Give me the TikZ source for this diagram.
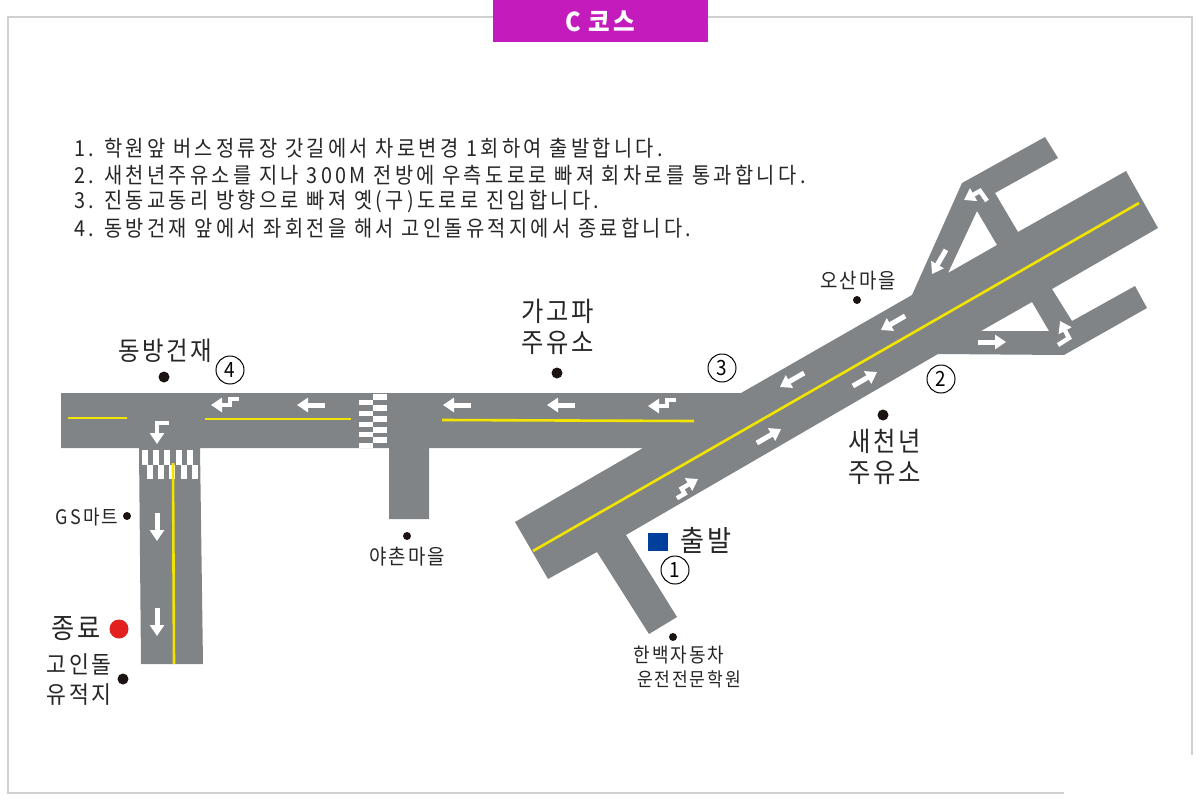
\documentclass[tikz,border=0pt]{standalone}
\usepackage{fontspec}
\setmainfont[FakeStretch=0.9, LetterSpace=10]{Noto Sans CJK KR}
\newfontfamily\guidefont[FakeStretch=0.9, LetterSpace=15]{Noto Sans CJK KR}
\usetikzlibrary{arrows.meta}
\definecolor{roadgray}{HTML}{808487}
\definecolor{lineyellow}{HTML}{F2E400}
\definecolor{framegray}{HTML}{D0D0D0}
\definecolor{titlepurple}{HTML}{C41BBD}
\definecolor{startblue}{HTML}{00409C}
\definecolor{endred}{HTML}{E2201F}
\definecolor{dotblack}{HTML}{1A1311}
\tikzset{
    framerule/.style={framegray, line width=2},
    centerline/.style={lineyellow, line width=2.6},
    zebra/.style={fill=white, draw=none},
    roadmark/.style={white, line width=5, -{Triangle[length=11, width=14]}},
    thinmark/.style={white, line width=4.4, miter limit=10, -{Triangle[length=11, width=14]}},
    placedot/.style={circle, fill=dotblack, inner sep=0, minimum size=#1},
    stepnum/.style={circle, draw, line width=1, inner sep=0, minimum size=28, font=\fontsize{21}{21}\selectfont},
    guide/.style={anchor=west, inner sep=0, text=black!85, font=\guidefont\fontsize{22}{22}\selectfont},
    place/.style={align=center, inner sep=0, text=black!85, font=\fontsize{#1}{#1}\selectfont},
    straightmark/.pic={\draw[roadmark] (-14,0) -- (14,0);},
    zigmark/.pic={\draw[thinmark] (-14,6) -- (-5,6) -- (-5,0) -- (14,0);},
}
\begin{document}
\begin{tikzpicture}[x=1pt, y=-1pt]
    \useasboundingbox (0,0) rectangle (1200,800);
    % frame
    \draw[framerule] (493,17) -- (8,17) -- (8,793) -- (1064,793);
    \draw[framerule] (708,17) -- (1192,17) -- (1192,755);
    \fill[titlepurple] (493,0) rectangle (708,42);
    \node[inner sep=0, text=white, font=\fontsize{26}{26}\selectfont\bfseries] (title) at (600,21) {C 코스};
    % guide text
    \node[guide] (guideone) at (74,148) {1. 학원앞 버스정류장 갓길에서 차로변경 1회하여 출발합니다.};
    \node[guide] (guidetwo) at (74,175) {2. 새천년주유소를 지나 300M 전방에 우측도로로 빠져 회차로를 통과합니다.};
    \node[guide] (guidethree) at (74,201) {3. 진동교동리 방향으로 빠져 옛(구)도로로 진입합니다.};
    \node[guide] (guidefour) at (74,228) {4. 동방건재 앞에서 좌회전을 해서 고인돌유적지에서 종료합니다.};
    % road
    \fill[roadgray, even odd rule] (1045,137) -- (1058,158) -- (995,193) -- (1018,232) -- (1126,171)
        -- (1158,228) -- (1052,289) -- (1072,321) -- (1135,286) -- (1147,308) -- (1064,355)
        -- (938,354) -- (626,535) -- (677,617) -- (649,634) -- (597,552) -- (548,579)
        -- (515,522) -- (643,448) -- (429,448) -- (429,519) -- (389,519) -- (389,448)
        -- (200,448) -- (203,664) -- (141,664) -- (139,448) -- (61,448) -- (61,393)
        -- (741,393) -- (912,295) -- (962,183) -- cycle
        (977,211) -- (997,245) -- (948,273) -- cycle
        (1032,302) -- (1049,331) -- (981,331) -- cycle;
    % crosswalks
    \foreach \ytop in {400,411,422,432,443}
        \fill[zebra] (359,\ytop) rectangle (373,\ytop+5);
    \foreach \ytop in {394,405,416,427,437}
        \fill[zebra] (373,\ytop) rectangle (387,\ytop+5.5);
    \foreach \xleft in {142,153,164,176,187}
        \fill[zebra] (\xleft,450) rectangle (\xleft+6,465);
    \foreach \xleft in {147,158,169,181,192}
        \fill[zebra] (\xleft,465) rectangle (\xleft+6,479);
    % center lines
    \draw[centerline] (1139,203) -- (533,551);
    \draw[centerline] (694,421) -- (442,420);
    \draw[centerline] (351,419) -- (205,419);
    \draw[centerline] (68,418) -- (127,418);
    \draw[centerline] (173,463) -- (174,664);
    % road marks
    \foreach \mx/\my/\ang in {311/405/180, 457/405/180, 561/405/180, 893/323/210, 792/380/210,
        769/436/30, 865/379/30, 992/342/0, 157/527/-90, 157/622/-90, 939/262/240}
        \pic[rotate=\ang] at (\mx,\my) {straightmark};
    \foreach \mx/\my/\ang in {225/405/180, 662/406/180, 686/486/30}
        \pic[rotate=\ang] at (\mx,\my) {zigmark};
    \draw[thinmark] (169,423) -- (157,423) -- (157,444);
    \draw[thinmark] (987,201) -- (980,191) -- (964,200);
    \draw[thinmark] (1058,345) -- (1069,338) -- (1060,321);
    % places
    \node[place=21] (osan) at (858,281) {오산마을};
    \node[placedot=8] (osandot) at (857,300) {};
    \node[place=27] (gago) at (558,327) {가고파\\[4pt]주유소};
    \node[placedot=11] (gagodot) at (557,373) {};
    \node[place=26] (dongbang) at (165,351) {동방건재};
    \node[placedot=11] (dongbangdot) at (164,377) {};
    \node[place=27] (saecheon) at (885,457) {새천년\\[4pt]주유소};
    \node[placedot=11] (saecheondot) at (883,415) {};
    \fill[startblue] (648,533) rectangle (668,551);
    \node[place=29] (start) at (706,540) {출발};
    \node[place=20] (hanbaek) at (679,655) {한백자동차};
    \node[place=19] (unjeon) at (689,679) {운전전문학원};
    \node[placedot=8] (hanbaekdot) at (673,637) {};
    \node[place=21] (yachon) at (407,557) {야촌마을};
    \node[placedot=8] (yachondot) at (407,536) {};
    \node[place=20] (gsmart) at (87,517) {GS마트};
    \node[placedot=8] (gsmartdot) at (127,516) {};
    \node[place=28] (finish) at (76,629) {종료};
    \node[circle, fill=endred, inner sep=0, minimum size=19] (finishdot) at (119,629) {};
    \node[place=24] (goindol) at (79,680) {고인돌\\[6pt]유적지};
    \node[placedot=11] (goindoldot) at (123,679) {};
    % step numbers
    \node[stepnum] (stepone) at (675,570) {1};
    \node[stepnum] (steptwo) at (941,379) {2};
    \node[stepnum] (stepthree) at (722,368) {3};
    \node[stepnum] (stepfour) at (230,370) {4};
\end{tikzpicture}
\end{document}
